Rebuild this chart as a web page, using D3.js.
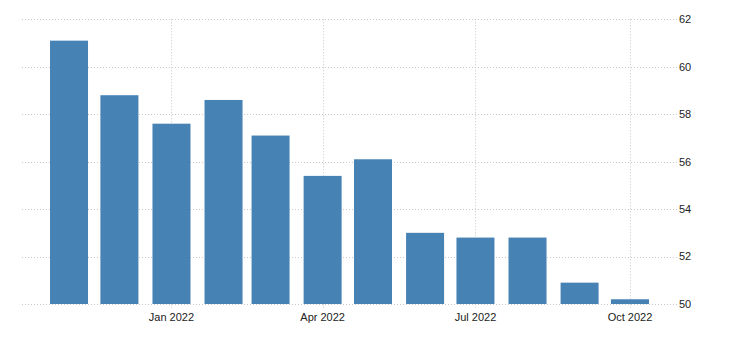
<!DOCTYPE html>
<html>
<head>
<meta charset="utf-8">
<script src="https://cdn.jsdelivr.net/npm/d3@7"></script>
<style>
html,body{margin:0;padding:0;background:#fff;}
svg{display:block;}
text{font-family:"Liberation Sans",Arial,sans-serif;font-size:11px;fill:#222;}
</style>
</head>
<body>
<svg id="chart" width="730" height="350"></svg>
<script>
const months = ["2021-11-01","2021-12-01","2022-01-01","2022-02-01","2022-03-01","2022-04-01","2022-05-01","2022-06-01","2022-07-01","2022-08-01","2022-09-01","2022-10-01"];
const values = [61.1, 58.8, 57.6, 58.6, 57.1, 55.4, 56.1, 53.0, 52.8, 52.8, 50.9, 50.2];
const yTicks = [50, 52, 54, 56, 58, 60, 62];
const xTickDates = ["2022-01-01","2022-04-01","2022-07-01","2022-10-01"];
const xTickLabels = ["Jan 2022","Apr 2022","Jul 2022","Oct 2022"];

(function(){
const parse = d3.utcParse("%Y-%m-%d");
const data = months.map((m,i)=>({date:parse(m), value:values[i]}));

const svg = d3.select("#chart");
const pLeft = 22, pRight = 677, pTop = 19.3, pBottom = 304;
const day = 86400000;
const x = d3.scaleUtc()
  .domain([new Date(parse(months[0]).getTime() - 28*day), new Date(parse(months[months.length-1]).getTime() + 28*day)])
  .range([pLeft, pRight]);
const y = d3.scaleLinear().domain([50, 62]).range([pBottom, pTop]);
const barW = 38;

const grid = svg.append("g");
grid.selectAll("line.h").data(yTicks).join("line")
  .attr("x1", pLeft).attr("x2", pRight)
  .attr("y1", d=>Math.round(y(d))+0.5).attr("y2", d=>Math.round(y(d))+0.5)
  .attr("stroke", "#c8c8c8").attr("stroke-dasharray", "1,2");
grid.selectAll("line.v").data(xTickDates).join("line")
  .attr("x1", d=>Math.round(x(parse(d)))+0.5).attr("x2", d=>Math.round(x(parse(d)))+0.5)
  .attr("y1", pTop).attr("y2", pBottom + 4)
  .attr("stroke", "#c8c8c8").attr("stroke-dasharray", "1,2");

svg.append("g").selectAll("rect").data(data).join("rect")
  .attr("x", d=>x(d.date) - barW/2)
  .attr("width", barW)
  .attr("y", d=>y(d.value))
  .attr("height", d=>y(50) - y(d.value))
  .attr("fill", "#4682b4");

svg.append("g").selectAll("text").data(yTicks).join("text")
  .attr("x", 679).attr("y", d=>y(d)).attr("dy", "0.35em")
  .text(d=>d);

svg.append("g").selectAll("text").data(xTickDates).join("text")
  .attr("x", d=>x(parse(d))).attr("y", 317).attr("dy", "0.35em")
  .attr("text-anchor", "middle")
  .text((d,i)=>xTickLabels[i]);
})();
</script>
</body>
</html>
